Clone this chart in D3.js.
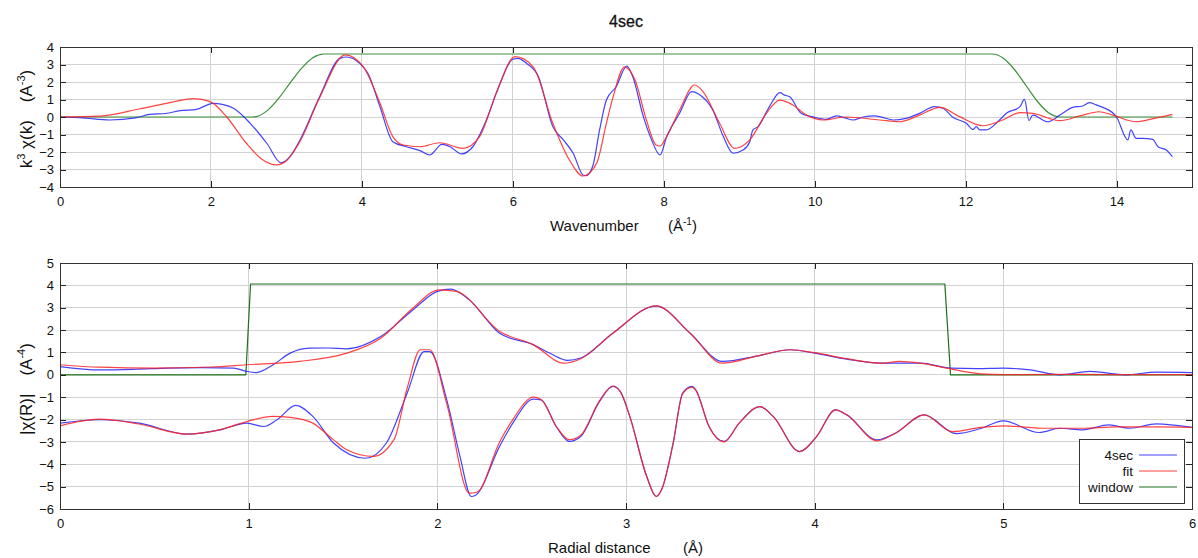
<!DOCTYPE html>
<html><head><meta charset="utf-8">
<script src="https://cdn.jsdelivr.net/npm/d3@7"></script>
<style>
body{margin:0;background:#fff}
svg{display:block}
text{font-family:"Liberation Sans",Arial,sans-serif;fill:#111}
</style>
</head><body>
<svg id="chart" width="1198" height="558"></svg>
<script>
// ---------- DATA ----------
const chartTitle = "4sec";
const seriesNames = ["4sec", "fit", "window"];

// top panel: k^3 chi(k)
const kData = [0,0.3,0.66,1.0,1.19,1.4,1.59,1.81,2.03,2.15,2.3,2.52,2.74,2.93,3.05,3.18,3.44,3.71,3.8,3.97,4.08,4.24,4.41,4.59,4.77,4.9,5.06,5.17,5.32,5.47,5.65,5.83,6.0,6.07,6.18,6.34,6.53,6.67,6.8,6.93,6.97,7.06,7.15,7.24,7.37,7.51,7.59,7.73,7.84,7.95,8.04,8.21,8.37,8.48,8.65,8.79,8.92,9.05,9.14,9.18,9.25,9.4,9.54,9.6,9.67,9.82,10.0,10.15,10.29,10.4,10.51,10.64,10.79,10.9,11.04,11.21,11.39,11.59,11.7,11.83,12.01,12.1,12.14,12.19,12.27,12.45,12.54,12.72,12.78,12.84,12.89,13.09,13.25,13.42,13.55,13.64,13.73,13.82,14.0,14.15,14.19,14.26,14.35,14.48,14.55,14.66,14.74];
const chiData = [0,-0.05,-0.17,-0.05,0.15,0.2,0.36,0.44,0.78,0.72,0.5,-0.36,-1.5,-2.62,-2.25,-1.31,1.16,3.35,3.43,3.07,2.5,0.59,-1.41,-1.7,-1.92,-2.17,-1.56,-1.7,-2.11,-1.7,-0.17,1.92,3.3,3.35,3.07,2.3,-0.55,-1.31,-2.07,-3.31,-3.35,-2.8,-0.74,0.97,1.73,2.91,2.3,0.02,-1.31,-2.17,-1.12,0.21,1.45,1.26,0.4,-1.12,-2.07,-1.89,-1.41,-0.75,-0.55,0.59,1.39,1.25,1.16,0.21,-0.02,-0.13,0.06,-0.05,-0.17,0,0.06,-0.02,-0.17,-0.08,0.21,0.59,0.5,-0.02,-0.36,-0.71,-0.55,-0.74,-0.74,-0.17,0.21,0.59,1.01,-0.21,0.11,-0.27,0.11,0.55,0.63,0.82,0.69,0.55,0,-1.31,-0.74,-1.22,-1.22,-1.28,-1.7,-1.89,-2.27];
const kFit = [0,0.53,1.06,1.41,1.77,1.99,2.21,2.47,2.69,2.87,3.0,3.18,3.44,3.78,4.02,4.24,4.41,4.55,4.77,5.03,5.34,5.56,5.78,6.03,6.27,6.53,6.75,6.93,7.11,7.24,7.33,7.48,7.62,7.77,7.9,7.95,8.04,8.21,8.41,8.52,8.74,8.94,9.14,9.36,9.54,9.71,9.89,10.11,10.42,10.86,11.13,11.39,11.66,11.92,12.23,12.49,12.72,12.89,13.25,13.51,13.77,13.95,14.26,14.52,14.74];
const chiFit = [0,0.05,0.47,0.78,1.05,0.88,0,-1.5,-2.46,-2.74,-2.5,-1.4,1.1,3.55,2.87,0.78,-1.12,-1.6,-1.7,-1.47,-1.79,-1.12,1.35,3.45,2.87,-0.36,-2.46,-3.37,-2.65,-0.36,1.16,2.85,2.11,-0.17,-1.6,-1.66,-1.1,0.4,1.83,1.45,-0.36,-1.79,-1.31,0.21,0.97,0.69,0.11,-0.17,0,-0.17,-0.27,0.11,0.55,0.02,-0.5,-0.17,0.25,0.21,-0.21,0.06,0.3,0.11,-0.27,-0.06,0.15];
const kWin = [0,2.55,2.6,2.75,2.9,3.05,3.2,3.35,3.5,12.35,12.5,12.65,12.8,12.95,13.1,13.25,14.74];
const winK = [0,0,0.02,0.38,1.08,1.95,2.78,3.39,3.6,3.6,3.36,2.7,1.8,0.9,0.24,0,0];

// bottom panel: |chi(R)| and Re chi(R)
const rMag = [0,0.21,0.4,0.57,0.75,0.92,0.99,1.04,1.13,1.22,1.32,1.42,1.52,1.7,1.87,2.0,2.07,2.17,2.33,2.51,2.6,2.69,2.76,2.93,3.16,3.34,3.51,3.7,3.87,4.0,4.17,4.35,4.56,4.72,4.86,5.0,5.14,5.3,5.46,5.65,5.81,6.0];
const magData = [0.37,0.22,0.25,0.3,0.32,0.3,0.15,0.1,0.45,0.97,1.19,1.2,1.16,1.71,2.9,3.73,3.83,3.35,1.86,1.34,0.95,0.65,0.75,1.86,3.07,1.86,0.6,0.85,1.12,0.97,0.7,0.52,0.52,0.3,0.28,0.3,0.22,0,0.15,0,0.12,0.1];
const rMagFit = [0,0.21,0.5,0.8,0.99,1.27,1.52,1.7,1.87,2.01,2.1,2.33,2.51,2.67,2.76,2.93,3.16,3.34,3.51,3.7,3.87,4.0,4.17,4.35,4.45,4.56,4.7,4.88,5.0,5.3,5.6,6.0];
const magFit = [0.45,0.34,0.3,0.35,0.45,0.6,0.97,1.64,2.98,3.8,3.73,1.94,1.34,0.52,0.72,1.86,3.08,1.86,0.52,0.85,1.12,0.99,0.72,0.52,0.6,0.52,0.3,0.04,0.01,0.02,0.01,0.01];
const rRe = [0,0.21,0.42,0.67,0.85,0.99,1.08,1.15,1.25,1.34,1.45,1.62,1.73,1.84,1.93,1.96,2.05,2.12,2.18,2.2,2.33,2.4,2.51,2.55,2.63,2.7,2.76,2.86,2.93,2.97,3.02,3.11,3.16,3.19,3.25,3.3,3.35,3.37,3.44,3.52,3.6,3.71,3.78,3.92,4.01,4.11,4.17,4.33,4.43,4.58,4.75,4.88,5.0,5.19,5.3,5.42,5.56,5.67,5.81,6.0];
const reData = [-2.16,-2.01,-2.16,-2.65,-2.46,-2.16,-2.31,-2.01,-1.37,-1.86,-3.05,-3.73,-3.05,-0.82,1.04,1.04,-1.12,-3.65,-5.44,-5.4,-3.2,-2.16,-1.09,-1.12,-2.31,-2.98,-2.76,-1.19,-0.52,-0.75,-1.86,-4.55,-5.44,-5.11,-3.05,-0.82,-0.52,-0.67,-2.31,-2.98,-2.16,-1.42,-1.86,-3.43,-2.76,-1.57,-1.79,-2.91,-2.6,-1.79,-2.63,-2.4,-2.06,-2.58,-2.39,-2.46,-2.24,-2.39,-2.19,-2.35];
const rReFit = [0,0.21,0.42,0.67,0.85,0.99,1.13,1.22,1.34,1.45,1.52,1.66,1.77,1.84,1.91,1.96,2.05,2.17,2.21,2.33,2.4,2.51,2.55,2.63,2.7,2.76,2.86,2.93,2.97,3.02,3.11,3.16,3.19,3.25,3.3,3.35,3.37,3.44,3.52,3.6,3.71,3.78,3.92,4.01,4.11,4.17,4.33,4.43,4.58,4.73,4.88,5.0,5.23,5.42,5.6,5.8,6.0];
const reFit = [-2.28,-1.98,-2.2,-2.65,-2.45,-2.09,-1.86,-1.9,-2.16,-2.91,-3.35,-3.65,-2.9,-0.6,1.12,1.12,-1.3,-5.29,-5.25,-3.0,-2.0,-1.0,-1.1,-2.3,-2.9,-2.7,-1.15,-0.5,-0.75,-1.86,-4.55,-5.44,-5.11,-3.05,-0.85,-0.55,-0.7,-2.31,-3.0,-2.16,-1.42,-1.86,-3.43,-2.76,-1.57,-1.79,-2.95,-2.6,-1.79,-2.54,-2.35,-2.28,-2.39,-2.39,-2.33,-2.33,-2.35];
const rWin = [0,0.985,1.01,4.69,4.72,6.0];
const winR = [0,0,4.06,4.06,0,0];

// ticks
const kTicks = [0,2,4,6,8,10,12,14];
const chiTicks = [-4,-3,-2,-1,0,1,2,3,4];
const rTicks = [0,1,2,3,4,5,6];
const rYTicks = [-6,-5,-4,-3,-2,-1,0,1,2,3,4,5];

// ---------- DRAWING ----------
const svg = d3.select("#chart");
const colBlue = "#2222ff", colRed = "#ff2222", colGreenTop = "#3d8f3d", colGreen = "#1d6f1d";

svg.append("text").attr("x", 626).attr("y", 27).attr("text-anchor", "middle")
  .style("font-size", "16px").style("stroke","#111").style("stroke-width","0.3px").text(chartTitle);

function zip(xs, ys){ return xs.map((x,i)=>[x, ys[i]]); }

function panel(o){
  const x = d3.scaleLinear().domain(o.xDomain).range([60, 1192]);
  const y = d3.scaleLinear().domain(o.yDomain).range([o.bottom, o.top]);
  const g = svg.append("g");
  g.selectAll(".vg").data(o.xGrid).enter().append("line")
    .attr("x1", d=>x(d)).attr("x2", d=>x(d)).attr("y1", o.top).attr("y2", o.bottom)
    .attr("stroke", "#d2d2d2").attr("stroke-width", 1).attr("shape-rendering","crispEdges");
  g.selectAll(".hg").data(o.yGrid).enter().append("line")
    .attr("y1", d=>y(d)).attr("y2", d=>y(d)).attr("x1", 60).attr("x2", 1192)
    .attr("stroke", "#d2d2d2").attr("stroke-width", 1).attr("shape-rendering","crispEdges");
  const cid = "clip" + o.id;
  svg.append("clipPath").attr("id", cid).append("rect")
    .attr("x", 60).attr("y", o.top).attr("width", 1132).attr("height", o.bottom - o.top);
  const lg = g.append("g").attr("clip-path", `url(#${cid})`);
  o.series.forEach(s=>{
    const line = d3.line().x(d=>x(d[0])).y(d=>y(d[1]))
      .curve(s.linear ? d3.curveLinear : d3.curveMonotoneX);
    lg.append("path").datum(s.pts).attr("d", line).attr("fill","none")
      .attr("stroke", s.color).attr("stroke-width", 1.2).attr("stroke-opacity", s.op || 1)
      .attr("stroke-linejoin","round");
  });
  const fs = "13px";
  const ax = g.append("g").attr("transform", `translate(0,${o.bottom})`)
    .call(d3.axisBottom(x).tickValues(o.xTicks).tickSizeInner(-6).tickSizeOuter(0).tickPadding(10).tickFormat(d3.format("d")));
  const ay = g.append("g").attr("transform", "translate(60,0)")
    .call(d3.axisLeft(y).tickValues(o.yTicks).tickSizeInner(-6).tickSizeOuter(0).tickPadding(6).tickFormat(d3.format("d")));
  const at = g.append("g").attr("transform", `translate(0,${o.top})`)
    .call(d3.axisTop(x).tickValues(o.xTicks).tickSizeInner(-6).tickSizeOuter(0).tickFormat(""));
  const ar = g.append("g").attr("transform", "translate(1192,0)")
    .call(d3.axisRight(y).tickValues(o.yTicks).tickSizeInner(-6).tickSizeOuter(0).tickFormat(""));
  [ax, ay, at, ar].forEach(a=>{
    a.select(".domain").remove();
    a.selectAll("line").attr("stroke", "#222").attr("shape-rendering","crispEdges");
    a.selectAll("text").style("font-size", fs).attr("fill", "#111").style("font-family",'"Liberation Sans",Arial,sans-serif');
  });
  g.append("rect").attr("x", 60).attr("y", o.top).attr("width", 1132).attr("height", o.bottom - o.top)
    .attr("fill","none").attr("stroke","#333").attr("stroke-width",1).attr("shape-rendering","crispEdges");
  return {x, y};
}

panel({
  id: "top", top: 47, bottom: 187, xDomain: [0, 15], yDomain: [-4, 4],
  xTicks: kTicks, yTicks: chiTicks,
  xGrid: kTicks.filter(d=>d>0), yGrid: chiTicks.filter(d=>d>-4 && d<4),
  series: [
    {pts: zip(kWin, winK), color: colGreenTop},
    {pts: zip(kData, chiData), color: colBlue, op: 0.85},
    {pts: zip(kFit, chiFit), color: colRed, op: 0.85}
  ]
});

panel({
  id: "bot", top: 263, bottom: 509, xDomain: [0, 6], yDomain: [-6, 5],
  xTicks: rTicks, yTicks: rYTicks,
  xGrid: rTicks.filter(d=>d>0 && d<6), yGrid: rYTicks.filter(d=>d>-6 && d<5),
  series: [
    {pts: zip(rWin, winR), color: colGreen, linear: true},
    {pts: zip(rMag, magData), color: colBlue, op: 0.85},
    {pts: zip(rMagFit, magFit), color: colRed, op: 0.85},
    {pts: zip(rRe, reData), color: colBlue, op: 0.85},
    {pts: zip(rReFit, reFit), color: colRed, op: 0.85}
  ]
});

// axis labels
const xl1 = svg.append("text").attr("x", 550).attr("y", 231).attr("text-anchor","start").style("font-size","15px");
xl1.append("tspan").text("Wavenumber");
xl1.append("tspan").attr("x", 668).text("(Å");
xl1.append("tspan").attr("dy", -6).style("font-size","10px").text("-1");
xl1.append("tspan").attr("dy", 6).text(")");

const xl2 = svg.append("text").attr("x", 548).attr("y", 553).attr("text-anchor","start").style("font-size","15px");
xl2.append("tspan").text("Radial distance");
xl2.append("tspan").attr("x", 683).text("(Å)");

const yl1 = svg.append("text").attr("transform","translate(32,119) rotate(-90)").attr("text-anchor","middle").style("font-size","17px");
yl1.append("tspan").text("k");
yl1.append("tspan").attr("dy",-7).style("font-size","11px").text("3");
yl1.append("tspan").attr("dy",7).text(" χ(k)");
yl1.append("tspan").attr("dx",18).text("(A");
yl1.append("tspan").attr("dy",-7).style("font-size","11px").text("-3");
yl1.append("tspan").attr("dy",7).text(")");

const yl2 = svg.append("text").attr("transform","translate(32,389) rotate(-90)").attr("text-anchor","middle").style("font-size","17px");
yl2.append("tspan").text("|χ(R)|");
yl2.append("tspan").attr("dx",18).text("(A");
yl2.append("tspan").attr("dy",-7).style("font-size","11px").text("-4");
yl2.append("tspan").attr("dy",7).text(")");

// legend
const lgd = svg.append("g");
lgd.append("rect").attr("x",1079.5).attr("y",439.5).attr("width",105).attr("height",64)
  .attr("fill","#fff").attr("stroke","#333").attr("stroke-width",1);
const legCols = [colBlue, colRed, colGreen];
seriesNames.forEach((n,i)=>{
  const yy = 455 + i*16;
  lgd.append("text").attr("x",1133).attr("y",yy+4.5).attr("text-anchor","end").style("font-size","13.5px").text(n);
  lgd.append("line").attr("x1",1139).attr("x2",1177).attr("y1",yy).attr("y2",yy)
    .attr("stroke",legCols[i]).attr("stroke-width",1.2).attr("stroke-opacity", i<2?0.85:1);
});
</script>
</body></html>
